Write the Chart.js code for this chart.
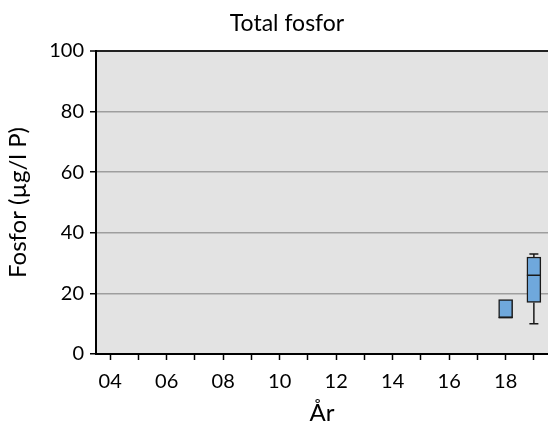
<!DOCTYPE html>
<html>
<head>
<meta charset="utf-8">
<script src="https://cdn.jsdelivr.net/npm/chart.js@4/dist/chart.umd.min.js"></script>
<style>
    html, body { margin: 0; padding: 0; background: #fff; }
    #wrap { width: 548px; height: 428px; }
</style>
</head>
<body>
<div id="wrap"><canvas id="myChart" width="548" height="428"></canvas></div>
<script>
// years on the x axis, one category per year
var years = ['2004', '2005', '2006', '2007', '2008', '2009', '2010', '2011',
             '2012', '2013', '2014', '2015', '2016', '2017', '2018', '2019'];
// box plot values per year (null = no samples)
var minVals = [null, null, null, null, null, null, null, null, null, null, null, null, null, null, 12, 10];
var q1Vals  = [null, null, null, null, null, null, null, null, null, null, null, null, null, null, 12, 17];
var medVals = [null, null, null, null, null, null, null, null, null, null, null, null, null, null, 12, 26];
var q3Vals  = [null, null, null, null, null, null, null, null, null, null, null, null, null, null, 18, 32];
var maxVals = [null, null, null, null, null, null, null, null, null, null, null, null, null, null, 18, 33];
var yTicks = [0, 20, 40, 60, 80, 100];

var font = "Lato, 'Open Sans', sans-serif";

// gray background of the plot area
var plotBg = {
    id: 'plotBg',
    beforeDraw: function (chart) {
        var a = chart.chartArea;
        var ctx = chart.ctx;
        ctx.save();
        ctx.fillStyle = '#e3e3e3';
        ctx.fillRect(a.left, a.top, a.right - a.left, a.bottom - a.top);
        ctx.restore();
    }
};

// title, a bit right of the canvas centre like the original
var chartTitle = {
    id: 'chartTitle',
    afterDraw: function (chart) {
        var ctx = chart.ctx;
        ctx.save();
        ctx.font = '23px ' + font;
        ctx.fillStyle = '#000';
        ctx.textAlign = 'center';
        ctx.textBaseline = 'middle';
        ctx.fillText('Total fosfor', 287, 24);
        ctx.restore();
    }
};

// whiskers and median lines on top of the floating bars
var whiskers = {
    id: 'whiskers',
    afterDatasetsDraw: function (chart) {
        var ctx = chart.ctx;
        var y = chart.scales.y;
        var meta = chart.getDatasetMeta(0);
        ctx.save();
        ctx.strokeStyle = '#1a1a1a';
        ctx.lineWidth = 1.5;
        for (var i = 0; i < years.length; i++) {
            if (q1Vals[i] === null) continue;
            var bar = meta.data[i];
            var x = bar.x;
            var half = bar.width / 2;
            var cap = 4.5;
            ctx.beginPath();
            // median
            ctx.moveTo(x - half, y.getPixelForValue(medVals[i]));
            ctx.lineTo(x + half, y.getPixelForValue(medVals[i]));
            // upper whisker
            if (maxVals[i] > q3Vals[i]) {
                ctx.moveTo(x, y.getPixelForValue(q3Vals[i]));
                ctx.lineTo(x, y.getPixelForValue(maxVals[i]));
                ctx.moveTo(x - cap, y.getPixelForValue(maxVals[i]));
                ctx.lineTo(x + cap, y.getPixelForValue(maxVals[i]));
            }
            // lower whisker
            if (minVals[i] < q1Vals[i]) {
                ctx.moveTo(x, y.getPixelForValue(q1Vals[i]));
                ctx.lineTo(x, y.getPixelForValue(minVals[i]));
                ctx.moveTo(x - cap, y.getPixelForValue(minVals[i]));
                ctx.lineTo(x + cap, y.getPixelForValue(minVals[i]));
            }
            ctx.stroke();
        }
        ctx.restore();
    }
};

var boxData = q1Vals.map(function (v, i) {
    return v === null ? null : [v, q3Vals[i]];
});

var ctx = document.getElementById('myChart').getContext('2d');
var chart = new Chart(ctx, {
    type: 'bar',
    data: {
        labels: years,
        datasets: [{
            label: 'Total fosfor',
            data: boxData,
            backgroundColor: '#6fa8dc',
            borderColor: '#1a1a1a',
            borderWidth: 1.5,
            borderSkipped: false,
            barThickness: 14
        }]
    },
    options: {
        responsive: false,
        animation: false,
        layout: { padding: { top: 51, left: 0, right: 0, bottom: 0 } },
        plugins: {
            legend: { display: false },
            title: { display: false },
            tooltip: { enabled: false }
        },
        scales: {
            x: {
                offset: true,
                grid: {
                    offset: false,
                    drawOnChartArea: false,
                    drawTicks: true,
                    tickLength: 6,
                    tickColor: '#000',
                    tickWidth: 1.5
                },
                border: { display: true, color: '#000', width: 2 },
                ticks: {
                    autoSkip: false,
                    maxRotation: 0,
                    color: '#000',
                    font: { family: font, size: 20 },
                    padding: 10,
                    callback: function (value, index) {
                        var yr = years[index];
                        return (Number(yr) % 2 === 0) ? yr.slice(2) : '';
                    }
                },
                title: {
                    display: true,
                    text: 'År',
                    color: '#000',
                    font: { family: font, size: 24 },
                    padding: { top: 0, bottom: 0 }
                },
                afterFit: function (scale) { scale.height = 74; }
            },
            y: {
                min: 0,
                max: 100,
                z: 1,
                afterBuildTicks: function (scale) {
                    scale.ticks = yTicks.map(function (v) { return { value: v }; });
                },
                grid: {
                    color: function (c) {
                        if (c.tick && c.tick.value === 100) return '#222';
                        if (c.tick && c.tick.value === 0) return 'rgba(0,0,0,0)';
                        return 'rgba(0,0,0,0.3)';
                    },
                    lineWidth: function (c) {
                        return (c.tick && c.tick.value === 100) ? 2 : 1.5;
                    },
                    drawTicks: true,
                    tickLength: 6,
                    tickColor: '#000',
                    tickWidth: 1.5
                },
                border: { display: true, color: '#000', width: 2 },
                ticks: {
                    color: '#000',
                    font: { family: font, size: 20 },
                    padding: 6
                },
                title: {
                    display: true,
                    text: 'Fosfor (µg/l P)',
                    color: '#000',
                    font: { family: font, size: 24 },
                    padding: { top: 4, bottom: 0 }
                },
                afterFit: function (scale) { scale.width = 96; }
            }
        }
    },
    plugins: [plotBg, chartTitle, whiskers]
});
</script>
</body>
</html>
